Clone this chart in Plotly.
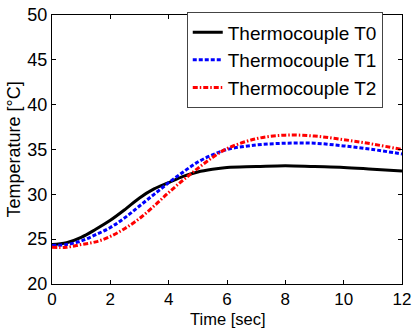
import plotly.graph_objects as go

time_s = [0, 0.5, 1, 1.5, 2, 2.5, 3, 3.5, 4, 4.5, 5, 5.5, 6, 7, 8, 9, 10, 11, 12]
t0 = [24.4, 24.6, 25.2, 26.1, 27.1, 28.3, 29.6, 30.6, 31.3, 32.0, 32.5, 32.8, 33.0, 33.1, 33.2, 33.1, 33.0, 32.8, 32.6]
t1 = [24.3, 24.4, 24.8, 25.5, 26.3, 27.4, 28.7, 30.0, 31.3, 32.5, 33.6, 34.4, 35.0, 35.5, 35.7, 35.7, 35.4, 35.0, 34.5]
t2 = [24.1, 24.1, 24.4, 24.7, 25.3, 26.2, 27.3, 28.7, 30.2, 31.6, 32.9, 34.1, 35.1, 36.2, 36.6, 36.5, 36.1, 35.6, 35.0]

names = ["Thermocouple T0", "Thermocouple T1", "Thermocouple T2"]
colors = ["#000000", "#0000ff", "#ff0000"]
dashes = ["solid", "4px,2px", "5px,2px,1.5px,2px"]

fig = go.Figure()
for y, n, c, d in zip([t0, t1, t2], names, colors, dashes):
    fig.add_trace(go.Scatter(x=time_s, y=y, mode="lines", name=n,
                             line=dict(color=c, width=3, dash=d, shape="spline", smoothing=1.0)))

axis_common = dict(showgrid=False, zeroline=False, showline=True, linecolor="black", linewidth=1,
                   mirror="ticks", ticks="inside", ticklen=4, tickcolor="black", automargin=False)

fig.update_layout(
    width=413, height=329,
    margin=dict(l=52, r=11, t=15, b=45),
    paper_bgcolor="white", plot_bgcolor="white",
    font=dict(family="Liberation Sans, Arial", color="black"),
    xaxis=dict(range=[0, 12], tickvals=[0, 2, 4, 6, 8, 10, 12],
               tickfont=dict(size=17, color="black"), **axis_common),
    yaxis=dict(range=[20, 50], tickvals=[20, 25, 30, 35, 40, 45, 50],
               tickfont=dict(size=18, color="black"),
               title=dict(text="Temperature [°C]", font=dict(size=18), standoff=2), **axis_common),
    legend=dict(x=0.385, y=1.01, xanchor="left", yanchor="top",
                bgcolor="white", bordercolor="#444444", borderwidth=1,
                font=dict(size=19), tracegroupgap=0),
    showlegend=True,
    annotations=[dict(text="Time [sec]", xref="paper", yref="paper", x=0.5, y=-0.167,
                      xanchor="center", yanchor="bottom", showarrow=False, borderpad=0,
                      font=dict(size=16.5, color="black"))],
)

fig.write_html("out.html")
